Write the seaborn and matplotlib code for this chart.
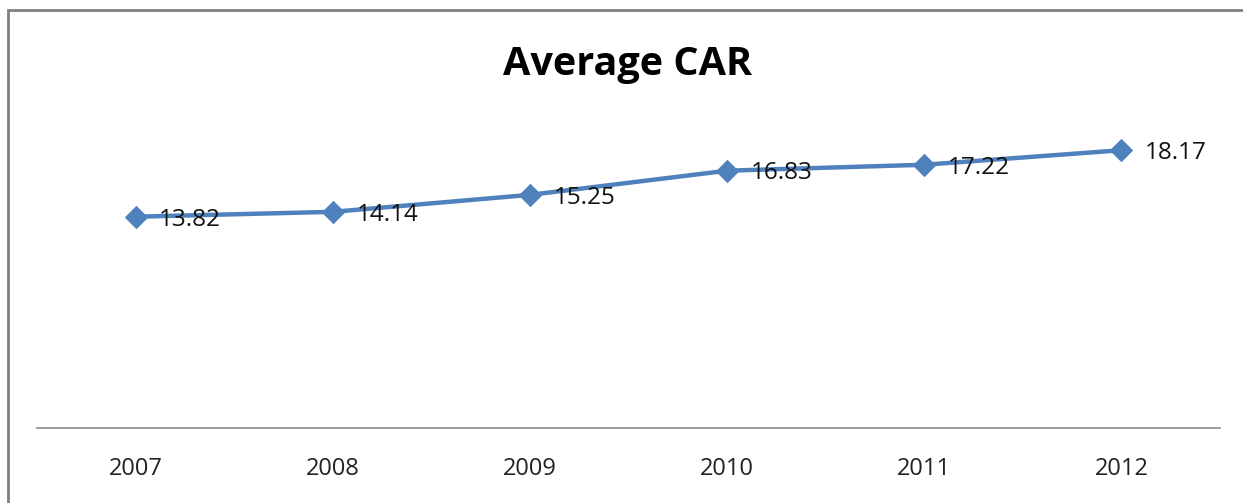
import pandas as pd
import seaborn as sns
import matplotlib.pyplot as plt
from matplotlib.patches import Rectangle

years = ["2007", "2008", "2009", "2010", "2011", "2012"]
car_values = [13.82, 14.14, 15.25, 16.83, 17.22, 18.17]

df = pd.DataFrame({"Year": years, "CAR": car_values})

sns.set_style("white")
plt.rcParams["font.family"] = ["Open Sans", "DejaVu Sans"]

fig = plt.figure(figsize=(12.43, 5.03), dpi=100)
ax = fig.add_axes([0.0298, 0.149, 0.9517, 0.608])

line_color = "#4F81BD"
sns.lineplot(data=df, x="Year", y="CAR", ax=ax, color=line_color, linewidth=3.2,
             marker="D", markersize=11, markeredgecolor=line_color, sort=False)

# data labels to the right of each point
for i, v in enumerate(car_values):
    ax.annotate(f"{v:.2f}", xy=(i, v), xytext=(17, -2), textcoords="offset points",
                ha="left", va="center", fontsize=17.5, color="#111111")

ax.set_xlim(-0.5, len(years) - 0.5)
ax.set_ylim(0, 20)
ax.set_xlabel("")
ax.set_ylabel("")
ax.set_yticks([])
ax.tick_params(axis="x", length=0, pad=21, labelsize=17, labelcolor="#222222")

for side in ["top", "right", "left"]:
    ax.spines[side].set_visible(False)
ax.spines["bottom"].set_color("#8C8C8C")
ax.spines["bottom"].set_linewidth(1.2)

fig.text(0.505, 0.872, "Average CAR", ha="center", va="center",
         fontsize=28.5, fontweight="bold", color="black")

# chart-area border (gray frame as in the screenshot)
fig.patches.append(Rectangle((8 / 1243, -0.05), 1.1, 0.03 + 1 - 10 / 503 + 0.02,
                             transform=fig.transFigure, fill=False,
                             edgecolor="#7F7F7F", linewidth=2))

fig.savefig("out.png", dpi=100)
